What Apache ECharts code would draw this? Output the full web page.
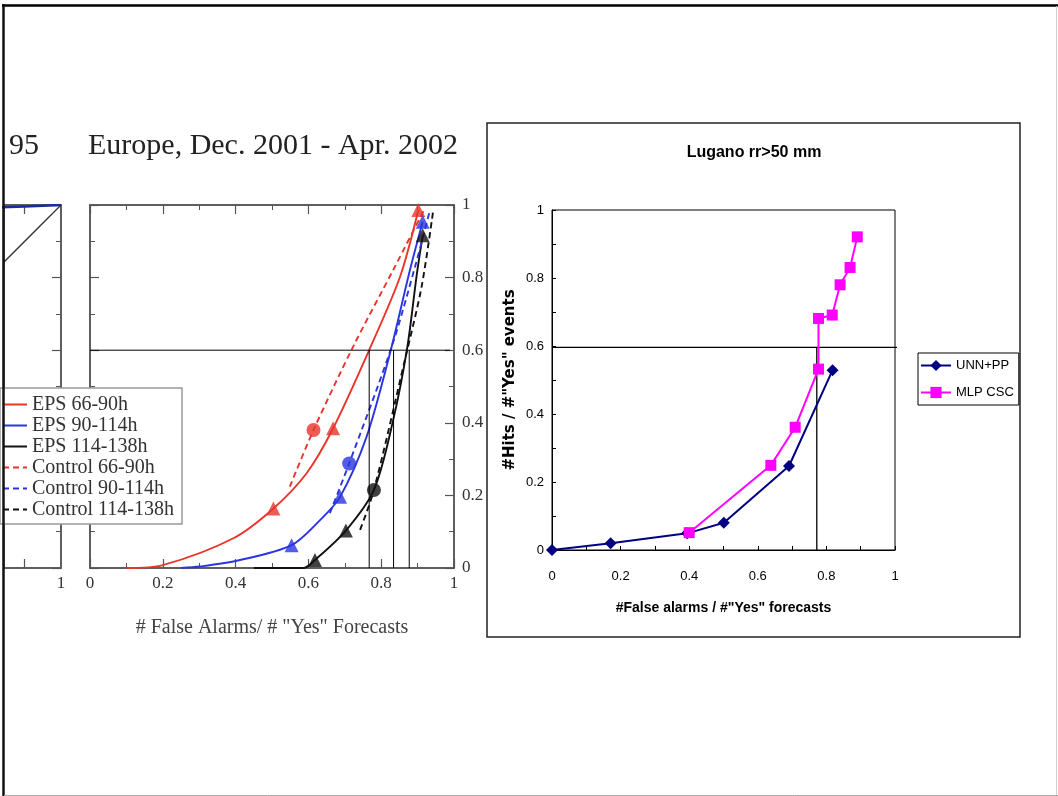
<!DOCTYPE html>
<html><head><meta charset="utf-8">
<script src="https://cdn.jsdelivr.net/npm/echarts@6/dist/echarts.min.js"></script>
<style>html,body{margin:0;padding:0;background:#fff}#c{width:1058px;height:796px}</style>
</head><body><div id="c"></div><script>
// ---------- Left panel (scanned plot): [false alarm ratio, hit rate] ----------
const leftNames = ['EPS 66-90h','EPS 90-114h','EPS 114-138h','Control 66-90h','Control 90-114h','Control 114-138h'];
const epsA = [[0.10,0.0],[0.20,0.008],[0.394,0.082],[0.504,0.164],[0.595,0.261],[0.668,0.385],[0.769,0.605],[0.852,0.803],[0.902,0.986]];
const epsAMarks = [[0.504,0.164],[0.668,0.385],[0.902,0.986]];
const epsB = [[0.25,0.0],[0.302,0.004],[0.412,0.022],[0.554,0.063],[0.632,0.132],[0.687,0.196],[0.760,0.362],[0.824,0.591],[0.879,0.821],[0.914,0.954]];
const epsBMarks = [[0.554,0.063],[0.687,0.196],[0.914,0.954]];
const epsC = [[0.45,0.0],[0.586,0.0],[0.618,0.022],[0.703,0.103],[0.78,0.215],[0.833,0.408],[0.872,0.61],[0.897,0.803],[0.914,0.917]];
const epsCMarks = [[0.618,0.022],[0.703,0.103],[0.914,0.917]];
const ctlA = [[0.549,0.224],[0.614,0.38],[0.723,0.61],[0.833,0.821],[0.92,0.991]];
const ctlAMarks = [[0.614,0.38]];
const ctlB = [[0.659,0.151],[0.712,0.288],[0.829,0.61],[0.893,0.83],[0.934,0.986]];
const ctlBMarks = [[0.712,0.288]];
const ctlC = [[0.742,0.105],[0.78,0.215],[0.865,0.573],[0.911,0.775],[0.943,0.986]];
const ctlCMarks = [[0.78,0.215]];
const leftHLine = [[0,0.6],[0.989,0.6]];
const leftVLineX = [0.767,0.834,0.877];
const partialDiag = [[0,0],[1,1]];
const partialBlue = [[0.8,0.992],[0.9,0.996],[1,1]];
const partialXTicks = [0.9];
const partialXLabels = [1];
const leftTitle = 'Europe, Dec. 2001 - Apr. 2002';
const leftCutTitle = '95';
const leftXName = '# False Alarms/ # "Yes" Forecasts';

// ---------- Right panel (Excel chart) ----------
const rightTitle = 'Lugano rr>50 mm';
const rightXName = '#False alarms / #"Yes" forecasts';
const rightYName = '#Hits / #"Yes" events';
const unnName = 'UNN+PP';
const unnX = [0, 0.171, 0.394, 0.501, 0.691, 0.818];
const unnY = [0, 0.020, 0.049, 0.080, 0.247, 0.529];
const mlpName = 'MLP CSC';
const mlpX = [0.400, 0.638, 0.709, 0.777, 0.777, 0.817, 0.840, 0.869, 0.890];
const mlpY = [0.051, 0.249, 0.361, 0.532, 0.681, 0.691, 0.780, 0.831, 0.921];
const rightHLine = [[0,0.596],[1.012,0.596]];
const rightVLine = [[0.772,0],[0.772,0.596]];

const serif = '"Liberation Serif","Times New Roman",serif';
const sans = '"Liberation Sans",Arial,sans-serif';
const RED = '#e8352c', BLUE = '#2a35e0', BLK = '#111';
const frameC = '#555';

function leftX(gridIndex, position, showLabel, extra) {
  return Object.assign({
    type:'value', gridIndex, position, min:0, max:1, interval:0.2,
    axisLine:{show:true, onZero:false, lineStyle:{color:frameC, width:1.5}},
    axisTick:{show:true, inside:true, length:9, lineStyle:{color:frameC, width:1.2}},
    minorTick:{show:true, splitNumber:2, length:5, lineStyle:{color:frameC, width:1}},
    splitLine:{show:false},
    axisLabel:{show:showLabel, fontFamily:serif, fontSize:17, color:'#333', margin:7}
  }, extra || {});
}
function leftY(gridIndex, position, showLabel) {
  return {
    type:'value', gridIndex, position, min:0, max:1, interval:0.2,
    axisLine:{show:true, onZero:false, lineStyle:{color:frameC, width:1.5}},
    axisTick:{show:true, inside:true, length:9, lineStyle:{color:frameC, width:1.2}},
    minorTick:{show:true, splitNumber:2, length:5, lineStyle:{color:frameC, width:1}},
    splitLine:{show:false},
    axisLabel:{show:showLabel, fontFamily:serif, fontSize:17, color:'#333', margin:8}
  };
}
function partialX(position, showLabel) {
  return {
    type:'value', gridIndex:0, position, min:0.843, max:1,
    axisLine:{show:true, onZero:false, lineStyle:{color:frameC, width:1.5}},
    axisTick:{show:true, inside:true, length:9, customValues:partialXTicks, lineStyle:{color:frameC, width:1.2}},
    minorTick:{show:false},
    splitLine:{show:false},
    axisLabel:{show:showLabel, customValues:partialXLabels, fontFamily:serif, fontSize:17, color:'#333', margin:7,
      formatter: v => (Math.abs(v - 1) < 1e-9 ? '1' : '')}
  };
}

function curve(name, data, color, dashed) {
  return {type:'line', name, xAxisIndex:2, yAxisIndex:1, data, smooth:0.3,
    symbol:'none', lineStyle:{color, width:1.9, type: dashed ? [6,4] : 'solid'}, itemStyle:{color}, z:3};
}
function marks(data, color, symbol) {
  return {type:'scatter', xAxisIndex:2, yAxisIndex:1, data, symbol,
    symbolSize: 14, itemStyle:{color}, z:5};
}
function refLine(data, xi, yi, w) {
  return {type:'line', xAxisIndex:xi, yAxisIndex:yi, data, symbol:'none', clip:false,
    lineStyle:{color:'#000', width:w}, z:6, silent:true};
}

const series = [
  {type:'line', xAxisIndex:0, yAxisIndex:0, data:partialDiag, symbol:'none', lineStyle:{color:'#333', width:1.3}},
  {type:'line', xAxisIndex:0, yAxisIndex:0, data:partialBlue, symbol:'none', lineStyle:{color:'#1a2aa0', width:2.5}},
  curve(leftNames[0], epsA, RED, false),
  curve(leftNames[1], epsB, BLUE, false),
  curve(leftNames[2], epsC, BLK, false),
  curve(leftNames[3], ctlA, RED, true),
  curve(leftNames[4], ctlB, BLUE, true),
  curve(leftNames[5], ctlC, BLK, true),
  marks(epsAMarks, RED, 'triangle'),
  marks(epsBMarks, BLUE, 'triangle'),
  marks(epsCMarks, BLK, 'triangle'),
  marks(ctlAMarks, RED, 'circle'),
  marks(ctlBMarks, BLUE, 'circle'),
  marks(ctlCMarks, BLK, 'circle'),
  refLine(leftHLine, 2, 1, 1)
];
leftVLineX.forEach(x => series.push(refLine([[x,0],[x,0.6]], 2, 1, 1)));
series.push(refLine(rightHLine, 4, 3, 1.3));
series.push(refLine(rightVLine, 4, 3, 1.3));
series.push({type:'line', name:unnName, xAxisIndex:4, yAxisIndex:3,
  data: unnX.map((x,i)=>[x, unnY[i]]), symbol:'diamond', symbolSize:12, showAllSymbol:true,
  lineStyle:{color:'#000080', width:2}, itemStyle:{color:'#000080'}, z:7});
series.push({type:'line', name:mlpName, xAxisIndex:4, yAxisIndex:3,
  data: mlpX.map((x,i)=>[x, mlpY[i]]), symbol:'rect', symbolSize:11, showAllSymbol:true,
  lineStyle:{color:'#ff00ff', width:2}, itemStyle:{color:'#ff00ff'}, z:8});

const option = {
  animation:false,
  backgroundColor:'#fff',
  grid:[
    {left:4, top:205, width:57, height:363, show:true, borderColor:frameC, borderWidth:1.5, backgroundColor:'transparent'},
    {left:90, top:205, width:364, height:363, show:true, borderColor:frameC, borderWidth:1.5, backgroundColor:'transparent'},
    {left:552, top:210, width:343, height:340, show:true, borderColor:'#000', borderWidth:1, backgroundColor:'transparent'}
  ],
  xAxis:[
    partialX('bottom', true),
    partialX('top', false),
    leftX(1,'bottom',true,{name:leftXName, nameLocation:'middle', nameGap:50,
      nameTextStyle:{fontFamily:serif, fontSize:20, color:'#444'}}),
    leftX(1,'top',false),
    {type:'value', gridIndex:2, position:'bottom', min:0, max:1, interval:0.2,
      axisLine:{show:true, onZero:false, lineStyle:{color:'#000', width:1}},
      axisTick:{show:true, inside:true, length:4, lineStyle:{color:'#000'}},
      minorTick:{show:true, splitNumber:2, length:4, lineStyle:{color:'#000'}},
      splitLine:{show:false},
      axisLabel:{fontFamily:sans, fontSize:13, color:'#000', margin:20},
      name:rightXName, nameLocation:'middle', nameGap:51,
      nameTextStyle:{fontFamily:sans, fontSize:14, fontWeight:'bold', color:'#000'}}
  ],
  yAxis:[
    leftY(0,'right',false),
    leftY(1,'right',true),
    leftY(1,'left',false),
    {type:'value', gridIndex:2, position:'left', min:0, max:1, interval:0.2,
      axisLine:{show:true, onZero:false, lineStyle:{color:'#000', width:1}},
      axisTick:{show:true, inside:true, length:4, lineStyle:{color:'#000'}},
      minorTick:{show:true, splitNumber:2, length:4, lineStyle:{color:'#000'}},
      splitLine:{show:false},
      axisLabel:{fontFamily:sans, fontSize:13, color:'#000', margin:8},
      name:rightYName, nameLocation:'middle', nameGap:34,
      nameTextStyle:{fontFamily:'"DejaVu Sans",sans-serif', fontSize:15, fontWeight:'bold', color:'#000'}}
  ],
  legend:[
    {data:leftNames, orient:'vertical', left:0, top:388, itemWidth:24, itemHeight:10, itemGap:0,
      padding:[6,8,4,2], borderColor:'#999', borderWidth:1.5, backgroundColor:'#fff',
      itemStyle:{opacity:0},
      textStyle:{fontFamily:serif, fontSize:20, color:'#333', lineHeight:21}, selectedMode:false},
    {data:[unnName, mlpName], orient:'vertical', left:918, top:353, itemWidth:30, itemHeight:14, itemGap:14,
      padding:[6,5,6,2], borderColor:'#000', borderWidth:1, backgroundColor:'#fff',
      textStyle:{fontFamily:sans, fontSize:13, color:'#000'}, selectedMode:false}
  ],
  graphic:[
    {type:'rect', shape:{x:487, y:123, width:533, height:514}, style:{fill:null, stroke:'#222', lineWidth:1.5}, z:1},
    {type:'line', shape:{x1:2, y1:5.5, x2:1058, y2:5.5}, style:{stroke:'#000', lineWidth:2.5}, z:100},
    {type:'line', shape:{x1:3.5, y1:4, x2:3.5, y2:796}, style:{stroke:'#111', lineWidth:2.5}, z:100},
    {type:'line', shape:{x1:1056.5, y1:6, x2:1056.5, y2:796}, style:{stroke:'#d0d0d0', lineWidth:1}, z:100},
    {type:'line', shape:{x1:4, y1:795.5, x2:1058, y2:795.5}, style:{stroke:'#aaa', lineWidth:1}, z:100},
    {type:'text', x:9, y:146, style:{text:leftCutTitle, fontFamily:serif, fontSize:30, fill:'#222', verticalAlign:'middle'}},
    {type:'text', x:88, y:146, style:{text:leftTitle, fontFamily:serif, fontSize:30, fill:'#222', verticalAlign:'middle'}},
    {type:'text', x:754, y:153, style:{text:rightTitle, fontFamily:sans, fontSize:16, fontWeight:'bold', fill:'#000', align:'center', verticalAlign:'middle'}}
  ],
  series
};
const chart = echarts.init(document.getElementById('c'), null, {renderer:'canvas'});
chart.setOption(option);
</script></body></html>
